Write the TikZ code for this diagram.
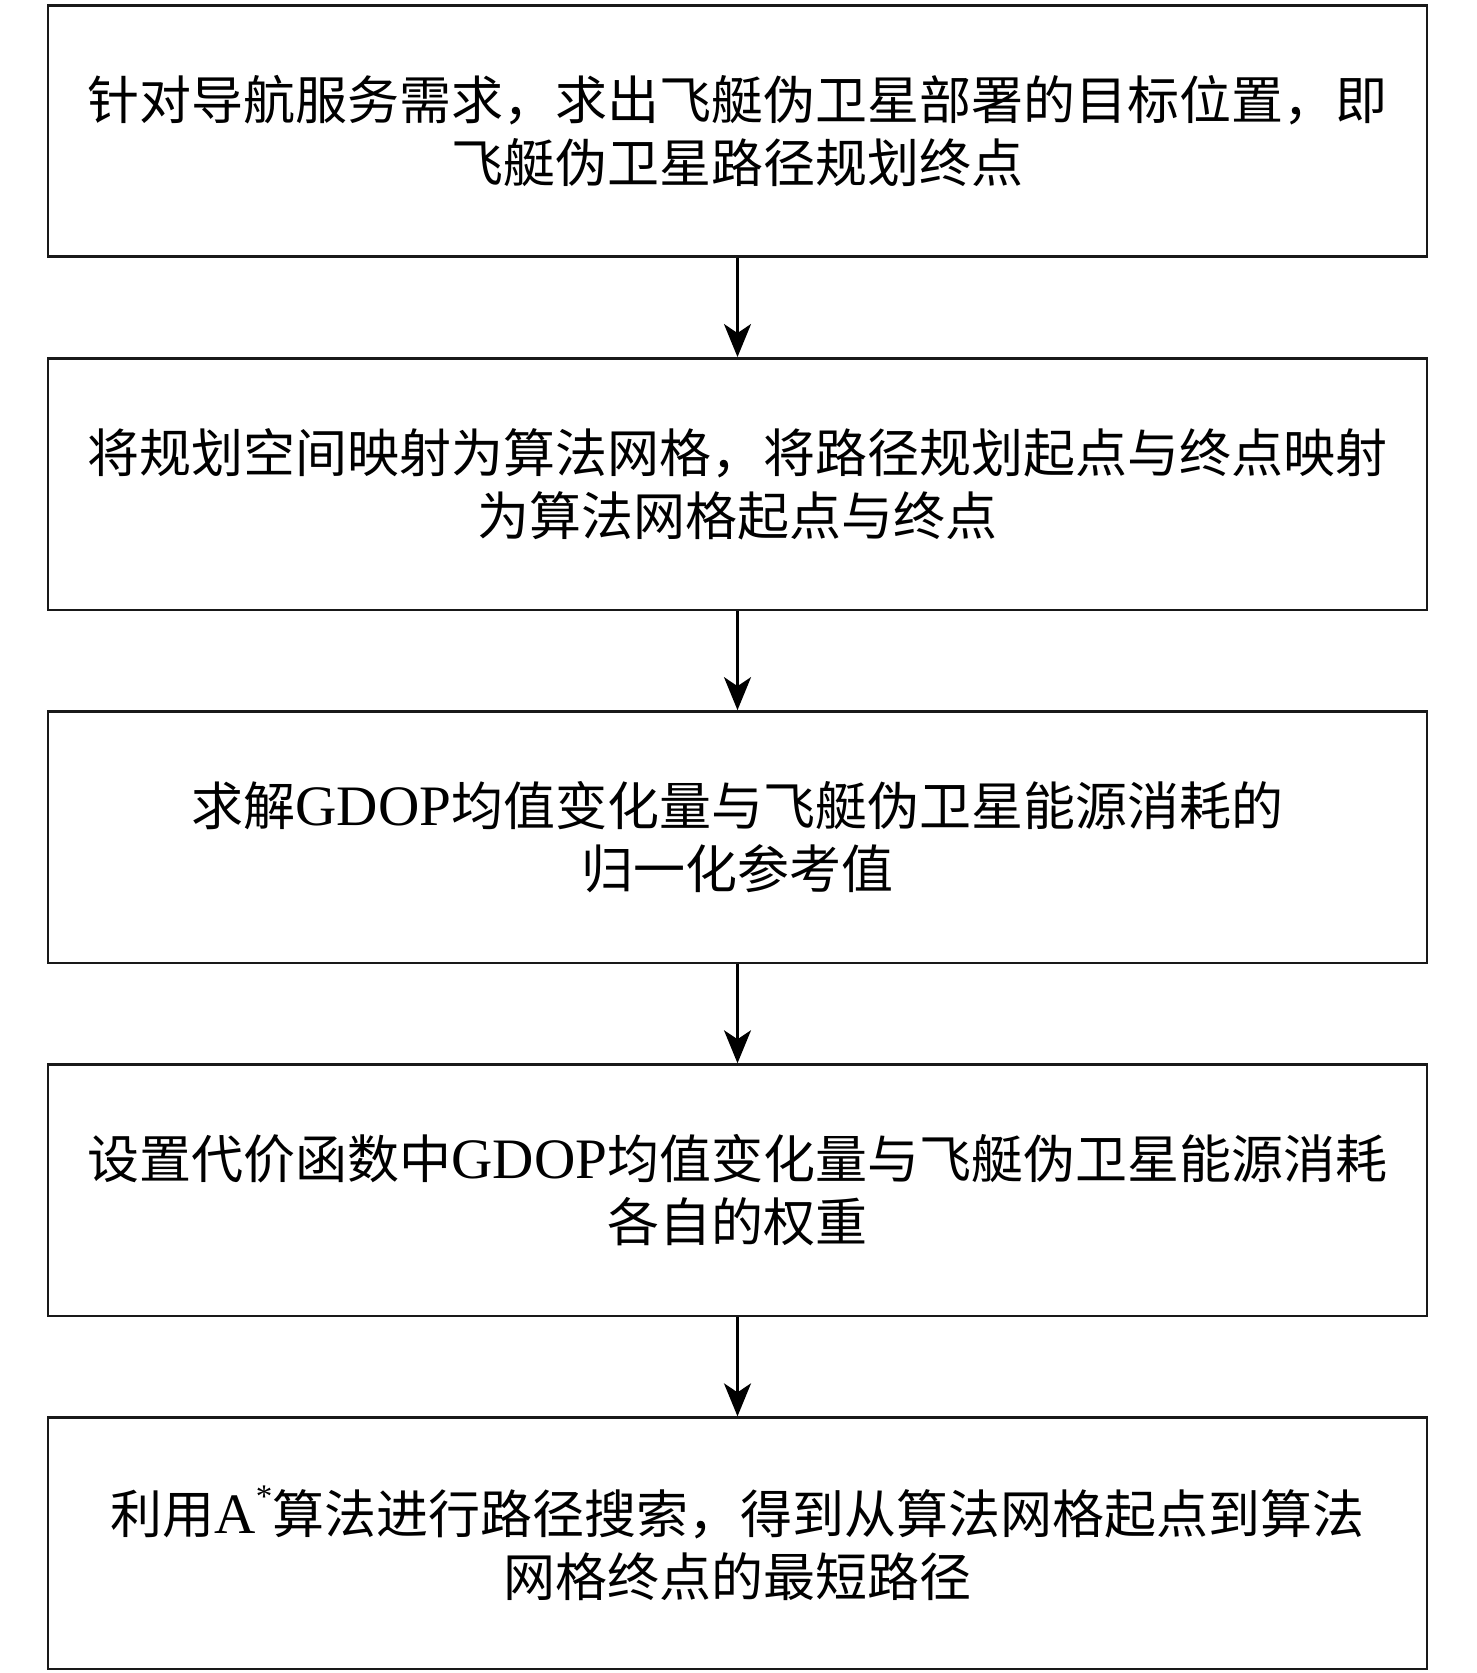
\documentclass[tikz,border=0pt]{standalone}
\usepackage{fontspec}
\setmainfont{Noto Sans CJK SC}
\newfontfamily\latin[Scale=1.1]{Liberation Serif}
\newcommand{\astsup}{\raisebox{0.45em}{\fontsize{30pt}{30pt}\selectfont *}}
\usepackage{tikz}
\usetikzlibrary{arrows.meta,positioning}
\tikzstyle{stepbox}=[rectangle, draw=black!90, line width=2.6pt, minimum width=1379pt, minimum height=251.5pt, inner sep=0pt, align=center, font=\fontsize{52pt}{63pt}\selectfont]
\tikzstyle{flow}=[line width=2.6pt, -{Stealth[length=33pt,width=27pt,inset=9pt]}]
\begin{document}
\begin{tikzpicture}
[node distance=99pt]
\useasboundingbox (0,0) rectangle (1476pt,-1673pt);
\node[stepbox] (target) at (737.5pt,-131pt) {针对导航服务需求，求出飞艇伪卫星部署的目标位置，即\\飞艇伪卫星路径规划终点};
\node[stepbox] (grid) [below=of target] {将规划空间映射为算法网格，将路径规划起点与终点映射\\为算法网格起点与终点};
\node[stepbox] (norm) [below=of grid] {求解{\latin GDOP}均值变化量与飞艇伪卫星能源消耗的\\归一化参考值};
\node[stepbox] (weight) [below=of norm] {设置代价函数中{\latin GDOP}均值变化量与飞艇伪卫星能源消耗\\各自的权重};
\node[stepbox] (search) [below=of weight] {利用{\latin A\astsup}算法进行路径搜索，得到从算法网格起点到算法\\网格终点的最短路径};
\path[flow]
   (target) edge node {} (grid)
   (grid) edge node {} (norm)
   (norm) edge node {} (weight)
   (weight) edge node {} (search);
\end{tikzpicture}
\end{document}
